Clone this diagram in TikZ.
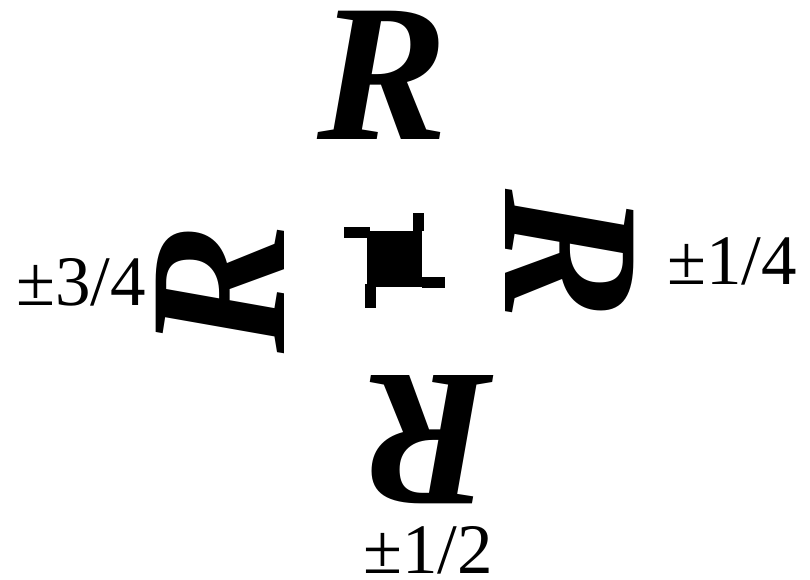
\documentclass[tikz,border=0pt]{standalone}
\usepackage{fontspec}
\setmainfont{Liberation Serif}
\begin{document}
\begin{tikzpicture}[x=1pt,y=-1pt,
  bigR/.style={inner sep=0pt, font=\fontsize{196}{196}\selectfont\bfseries\itshape},
  lbl/.style={inner sep=0pt, font=\fontsize{71}{71}\selectfont}]
\useasboundingbox (0,0) rectangle (810,580);

\node[bigR] (top) at (383,75) {R};
\node[bigR, rotate=-90] (right) at (570,255) {R};
\node[bigR, rotate=180] (bottom) at (428,440) {R};
\node[bigR, rotate=90] (left) at (220,288) {R};

\node[lbl] (l34) at (81,282) {±3/4};
\node[lbl] (l14) at (732,261) {±1/4};
\node[lbl] (l12) at (428,550) {±1/2};

\fill (367,231) rectangle (422,287);
\fill (344,227) rectangle (370,238);
\fill (413,213) rectangle (424,231);
\fill (422,277) rectangle (445,288);
\fill (365,284) rectangle (376,308);
\end{tikzpicture}
\end{document}
